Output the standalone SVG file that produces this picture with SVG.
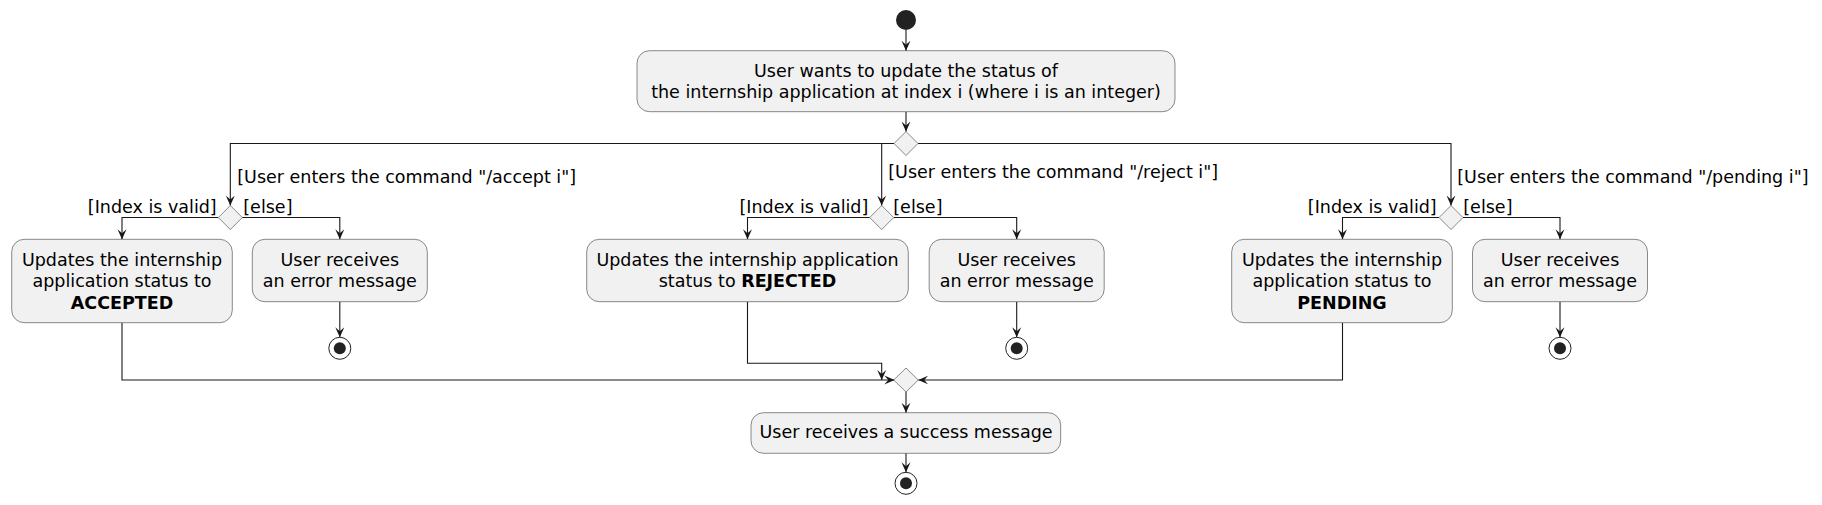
<svg xmlns="http://www.w3.org/2000/svg" width="1822" height="505" viewBox="0 0 1822 505">
<defs>
<marker id="arr" viewBox="0 0 10 10" refX="10" refY="5" markerWidth="10" markerHeight="10" markerUnits="userSpaceOnUse" orient="auto">
<path d="M0,0.5 L10,5 L0,9.5 L4,5 Z" fill="#181818"/>
</marker>
<style>
.box{fill:#F1F1F1;stroke:#181818;stroke-width:0.5}
.dia{fill:#F1F1F1;stroke:#181818;stroke-width:0.5}
.t{font-family:"DejaVu Sans",sans-serif;font-size:17.5px;fill:#000000}
.c{text-anchor:middle}
.e{text-anchor:end}
.b{font-weight:bold}
.ar{fill:none;stroke:#181818;stroke-width:1.1;marker-end:url(#arr)}
.start{fill:#222222}
.endo{fill:none;stroke:#222222;stroke-width:1}
.endi{fill:#222222}
</style>
</defs>
<rect width="1822" height="505" fill="#FFFFFF"/>

<g id="connectors">
<path class="ar" d="M906,30 L906,50.7"/>
<path class="ar" d="M906,111.7 L906,131.5"/>
<path class="ar" d="M894,143.5 L230.3,143.5 L230.3,205.5"/>
<path class="ar" d="M918,143.5 L1451,143.5 L1451,205.5"/>
<path class="ar" d="M881.7,143.5 L881.7,205.5"/>
<path class="ar" d="M218.3,217.5 L122,217.5 L122,239.3"/>
<path class="ar" d="M242.3,217.5 L339.8,217.5 L339.8,239.3"/>
<path class="ar" d="M339.8,301.7 L339.8,337.3"/>
<path class="ar" d="M869.7,217.5 L747.5,217.5 L747.5,239.3"/>
<path class="ar" d="M893.7,217.5 L1016.7,217.5 L1016.7,239.3"/>
<path class="ar" d="M1016.7,301.7 L1016.7,337.3"/>
<path class="ar" d="M1439,217.5 L1342.5,217.5 L1342.5,239.3"/>
<path class="ar" d="M1463,217.5 L1560,217.5 L1560,239.3"/>
<path class="ar" d="M1560,301.7 L1560,337.3"/>
<path class="ar" d="M122,322.7 L122,380 L894.3,380"/>
<path class="ar" d="M747.5,301.7 L747.5,363.3 L881.7,363.3 L881.7,380"/>
<path class="ar" d="M1342.5,322.7 L1342.5,380 L918.3,380"/>
<path class="ar" d="M906,392 L906,412.7"/>
<path class="ar" d="M906,453.3 L906,472.3"/>
<text class="t" x="237.3" y="182.5">[User enters the command "/accept i"]</text>
<text class="t" x="888.3" y="178">[User enters the command "/reject i"]</text>
<text class="t" x="1457.3" y="182.5">[User enters the command "/pending i"]</text>
<text class="t e" x="216.7" y="213">[Index is valid]</text>
<text class="t" x="243.3" y="213">[else]</text>
<text class="t e" x="868.3" y="213">[Index is valid]</text>
<text class="t" x="893.3" y="213">[else]</text>
<text class="t e" x="1436.7" y="213">[Index is valid]</text>
<text class="t" x="1463.3" y="213">[else]</text>
</g>

<g id="start"><circle class="start" cx="906" cy="20" r="10"/></g>

<g id="n_update">
<rect class="box" x="637" y="50.7" width="538" height="61" rx="12.5" ry="12.5"/>
<text class="t c" x="906" y="76.5">User wants to update the status of</text>
<text class="t c" x="906" y="98">the internship application at index i (where i is an integer)</text>
</g>

<g id="d_main"><polygon class="dia" points="906,131.5 918,143.5 906,155.5 894,143.5"/></g>

<g id="d_accept"><polygon class="dia" points="230.3,205.5 242.3,217.5 230.3,229.5 218.3,217.5"/></g>
<g id="d_reject"><polygon class="dia" points="881.7,205.5 893.7,217.5 881.7,229.5 869.7,217.5"/></g>
<g id="d_pending"><polygon class="dia" points="1451,205.5 1463,217.5 1451,229.5 1439,217.5"/></g>

<g id="n_accepted">
<rect class="box" x="11.7" y="239.3" width="220.6" height="83.4" rx="12.5" ry="12.5"/>
<text class="t c" x="122" y="266">Updates the internship</text>
<text class="t c" x="122" y="287.3">application status to</text>
<text class="t c b" x="122" y="308.6">ACCEPTED</text>
</g>

<g id="n_err1">
<rect class="box" x="252.3" y="239.3" width="175" height="62.4" rx="12.5" ry="12.5"/>
<text class="t c" x="339.8" y="266">User receives</text>
<text class="t c" x="339.8" y="287.3">an error message</text>
</g>
<g id="end1"><circle class="endo" cx="339.8" cy="348.3" r="11"/><circle class="endi" cx="339.8" cy="348.3" r="6"/></g>

<g id="n_rejected">
<rect class="box" x="586.7" y="239.3" width="321.6" height="62.4" rx="12.5" ry="12.5"/>
<text class="t c" x="747.5" y="266">Updates the internship application</text>
<text class="t c" x="747.5" y="287.3">status to <tspan class="b">REJECTED</tspan></text>
</g>

<g id="n_err2">
<rect class="box" x="929.2" y="239.3" width="175" height="62.4" rx="12.5" ry="12.5"/>
<text class="t c" x="1016.7" y="266">User receives</text>
<text class="t c" x="1016.7" y="287.3">an error message</text>
</g>
<g id="end2"><circle class="endo" cx="1016.7" cy="348.3" r="11"/><circle class="endi" cx="1016.7" cy="348.3" r="6"/></g>

<g id="n_pending">
<rect class="box" x="1231.7" y="239.3" width="220.6" height="83.4" rx="12.5" ry="12.5"/>
<text class="t c" x="1342" y="266">Updates the internship</text>
<text class="t c" x="1342" y="287.3">application status to</text>
<text class="t c b" x="1342" y="308.6">PENDING</text>
</g>

<g id="n_err3">
<rect class="box" x="1472.5" y="239.3" width="175" height="62.4" rx="12.5" ry="12.5"/>
<text class="t c" x="1560" y="266">User receives</text>
<text class="t c" x="1560" y="287.3">an error message</text>
</g>
<g id="end3"><circle class="endo" cx="1560" cy="348.3" r="11"/><circle class="endi" cx="1560" cy="348.3" r="6"/></g>

<g id="d_merge"><polygon class="dia" points="906,368 918.3,380 906,392 893.7,380"/></g>

<g id="n_success">
<rect class="box" x="751" y="412.7" width="309.7" height="40.6" rx="12.5" ry="12.5"/>
<text class="t c" x="906" y="438.3">User receives a success message</text>
</g>

<g id="end_final"><circle class="endo" cx="906" cy="483.3" r="11"/><circle class="endi" cx="906" cy="483.3" r="6"/></g>
</svg>
